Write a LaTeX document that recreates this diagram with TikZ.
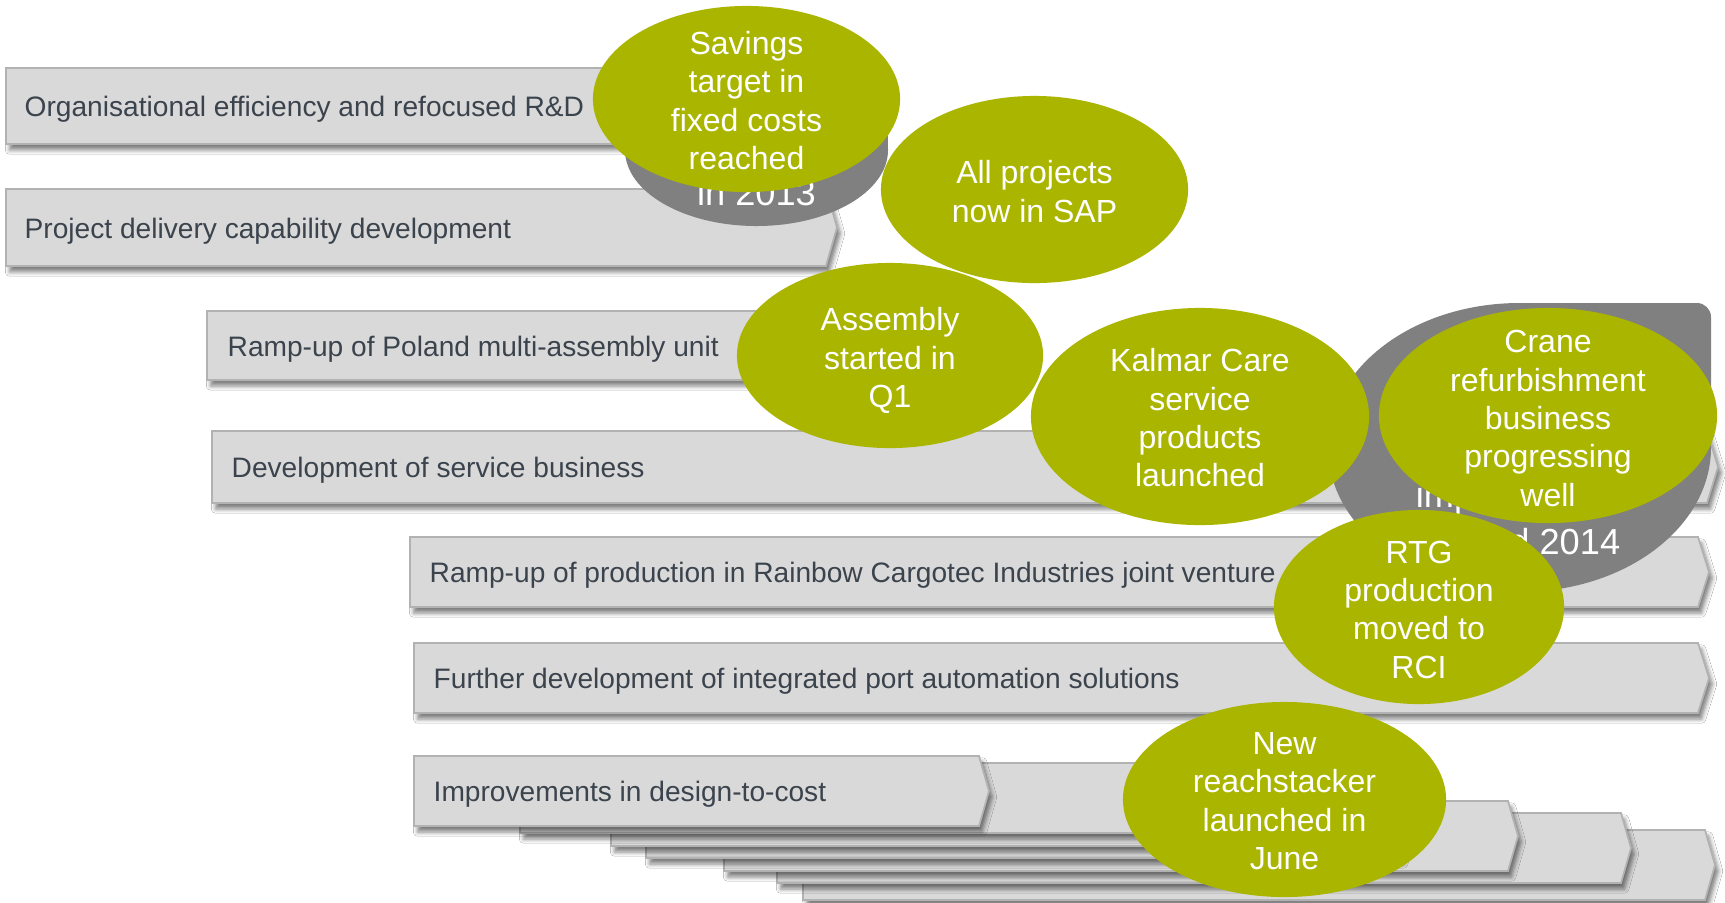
\documentclass[tikz,border=0pt]{standalone}
\usepackage{fontspec}
\setmainfont{Liberation Sans}
\usetikzlibrary{shapes.geometric, shadows.blur}

\definecolor{kgreen}{RGB}{170,181,0}
\definecolor{kgray}{RGB}{128,128,128}
\definecolor{barfill}{RGB}{217,217,217}
\definecolor{barline}{RGB}{178,178,178}
\definecolor{bartext}{RGB}{59,67,77}

\begin{document}
\begin{tikzpicture}[x=0.01cm, y=-0.01cm,
        bar/.style={fill=barfill, draw=barline, line width=0.5pt,
            blur shadow={shadow xshift=1pt, shadow yshift=-1.7pt,
                shadow blur radius=1.2pt, shadow opacity=50}},
        item/.style={anchor=base west, inner sep=0pt, text=bartext,
            font=\fontsize{8}{9.6}\selectfont},
        goal/.style={ellipse, fill=kgreen, inner sep=0pt},
        goaltext/.style={align=center, inner sep=0pt, text=white,
            font=\fontsize{9.1}{10.9}\selectfont},
        status/.style={fill=kgray},
        statustext/.style={align=center, inner sep=0pt, text=white,
            font=\fontsize{10.3}{13.1}\selectfont}]
    \fill[white] (0,0) rectangle (1725,902);
    \useasboundingbox (0,0) rectangle (1725,902);

    % stacked bars under the last row, back to front
    \foreach \l/\t/\r in {803/830/1705, 777/813/1621, 724/801/1508,
                          646/788/1400, 611/776/1400, 520/763/1390}
        \draw[bar] (\l,\t) -- (\r,\t) -- (\r+10,\t+35) -- (\r,\t+70) -- (\l,\t+70) -- cycle;

    % labelled bars
    \draw[bar] (414,756) -- (979,756) -- (989,791) -- (979,826) -- (414,826) -- cycle;
    \draw[bar] (414,643) -- (1698,643) -- (1709,678) -- (1698,713) -- (414,713) -- cycle;
    \draw[bar] (410,537) -- (1698,537) -- (1709,572) -- (1698,607) -- (410,607) -- cycle;
    \draw[bar] (212,431) -- (1707,431) -- (1718,467) -- (1707,503) -- (212,503) -- cycle;
    \draw[bar] (207,311) -- (1000,311) -- (1011,345.5) -- (1000,380) -- (207,380) -- cycle;
    \draw[bar] (6,189) -- (826,189) -- (837,227.5) -- (826,266) -- (6,266) -- cycle;
    \draw[bar] (6,68) -- (826,68) -- (837,106) -- (826,144) -- (6,144) -- cycle;

    \node[item] (org) at (24,116.5) {Organisational efficiency and refocused R\&D};
    \node[item] (proj) at (24,238) {Project delivery capability development};
    \node[item] (poland) at (227,356) {Ramp-up of Poland multi-assembly unit};
    \node[item] (service) at (231,477.5) {Development of service business};
    \node[item] (rci) at (429,582.5) {Ramp-up of production in Rainbow Cargotec Industries joint venture};
    \node[item] (auto) at (433,688.5) {Further development of integrated port automation solutions};
    \node[item] (dtc) at (433,801.5) {Improvements in design-to-cost};

    % grey teardrops behind the green ones
    \fill[status] (756.5,150) ellipse [x radius=131.5, y radius=76];
    \fill[status] (756.5,74) rectangle (888,150);
    \node[statustext] (year13) at (756.5,193) {in 2013};

    \fill[status] (1519.5,447.5) ellipse [x radius=191.5, y radius=144.5];
    \fill[status, rounded corners=4pt] (1519.5,303) rectangle (1711,447.5);
    \fill[status] (1519.5,303) rectangle (1600,447.5);
    \node[statustext] (year14) at (1519.5,518) {implemented\\started 2014};

    % green milestones
    \node[goal, minimum width=3.07cm, minimum height=1.86cm] (savings) at (746.5,99) {};
    \node[goaltext] (savings-t) at (746.5,100.5) {Savings\\target in\\fixed costs\\reached};
    \node[goal, minimum width=3.07cm, minimum height=1.87cm] (sap) at (1034.5,189.5) {};
    \node[goaltext] (sap-t) at (1034.5,191.5) {All projects\\now in SAP};
    \node[goal, minimum width=3.06cm, minimum height=1.85cm] (assembly) at (890,355.5) {};
    \node[goaltext] (assembly-t) at (890,360.5) {Assembly\\started in\\Q1};
    \node[goal, minimum width=3.38cm, minimum height=2.17cm] (care) at (1200,416.5) {};
    \node[goaltext] (care-t) at (1200,418) {Kalmar Care\\service\\products\\launched};
    \node[goal, minimum width=3.38cm, minimum height=2.15cm] (crane) at (1548,415.5) {};
    \node[goaltext] (crane-t) at (1548,418.5) {Crane\\refurbishment\\business\\progressing\\well};
    \node[goal, minimum width=2.90cm, minimum height=1.94cm] (rtg) at (1419,607) {};
    \node[goaltext] (rtg-t) at (1419,609.5) {RTG\\production\\moved to\\RCI};
    \node[goal, minimum width=3.23cm, minimum height=1.95cm] (reach) at (1284.5,799.5) {};
    \node[goaltext] (reach-t) at (1284.5,801) {New\\reachstacker\\launched in\\June};
\end{tikzpicture}
\end{document}
